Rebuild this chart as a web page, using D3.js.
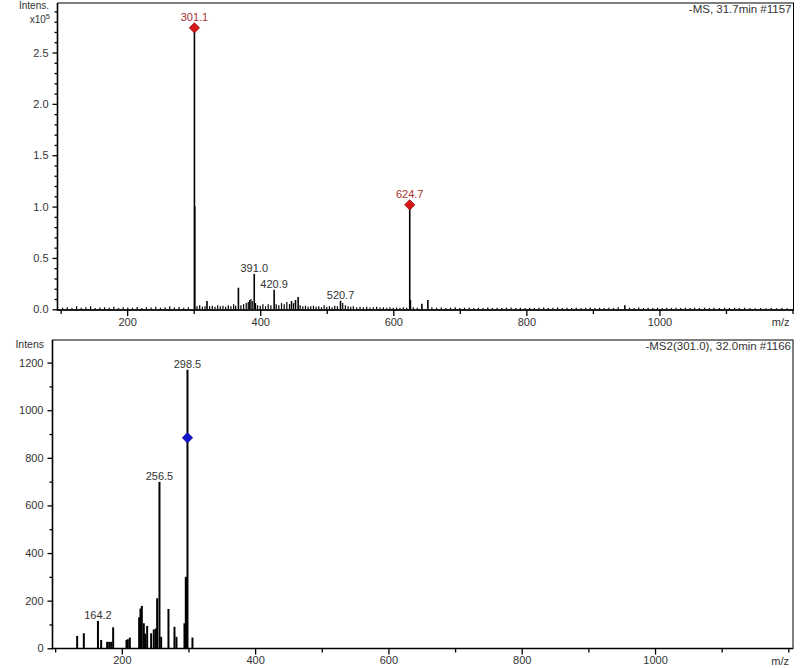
<!DOCTYPE html>
<meta charset="utf-8">
<style>
  body {
    margin: 0;
    background-color: white;
  }
  svg text {
    font-family: "Liberation Sans", Arial, sans-serif;
    fill: #333;
  }
</style>

<body>
  <script src="https://d3js.org/d3.v7.min.js"></script>
  <div id="chart"></div>
  <script>

    // ---- MS scan (top), intensities in units of 1e5 ----
    var msPeaks = [[301.1, 2.74], [301.6, 1.0], [624.7, 1.017], [367.2, 0.21], [391.0, 0.345],
      [420.9, 0.19], [457, 0.12], [447, 0.08], [453, 0.09], [520.7, 0.083], [625.7, 0.09],
      [643, 0.055], [652, 0.09], [320, 0.08], [948, 0.04]]
    var msNoise = [[103, .015], [110, .02], [117, .012], [124, .03], [131, .015], [138, .02], [145, .03],
      [152, .012], [159, .018], [166, .02], [173, .015], [180, .025], [187, .012], [194, .02], [201, .018],
      [208, .015], [215, .022], [222, .012], [229, .02], [236, .018], [243, .025], [250, .015], [257, .02],
      [264, .03], [271, .018], [278, .022], [285, .015], [292, .02], [305, .03], [309, .04], [313, .025],
      [317, .03], [324, .03], [328, .035], [332, .025], [336, .04], [340, .03], [344, .035], [348, .025],
      [352, .04], [356, .03], [360, .05], [363, .035], [371, .04], [375, .05], [379, .06], [382, .07],
      [384, .09], [386, .1], [388, .08], [393, .06], [396, .04], [400, .035], [404, .05], [408, .03],
      [412, .05], [416, .04], [424, .05], [428, .04], [432, .06], [436, .05], [440, .07], [444, .05],
      [450, .06], [460, .04], [464, .03], [468, .035], [472, .025], [476, .03], [480, .035], [484, .025],
      [488, .03], [492, .02], [496, .04], [500, .025], [504, .03], [508, .02], [512, .035], [516, .03],
      [524, .06], [528, .04], [532, .03], [536, .025], [540, .03], [545, .02], [550, .025], [555, .02],
      [560, .025], [565, .018], [570, .02], [575, .025], [580, .018], [585, .02], [590, .015], [595, .02],
      [600, .015], [605, .018], [610, .015], [615, .02], [620, .015], [630, .02], [636, .015], [658, .02],
      [665, .015], [672, .018], [679, .012], [686, .015], [693, .02], [700, .012], [707, .015], [714, .018],
      [721, .012], [728, .015], [735, .012], [742, .018], [749, .012], [756, .015], [763, .012], [770, .015],
      [777, .018], [784, .012], [791, .015], [798, .012], [805, .015], [812, .012], [819, .015], [826, .018],
      [833, .012], [840, .015], [847, .018], [854, .012], [861, .015], [868, .012], [875, .015], [882, .012],
      [889, .015], [896, .018], [903, .012], [910, .015], [917, .012], [924, .015], [931, .012], [938, .02],
      [955, .015], [962, .012], [969, .018], [976, .012], [983, .015], [990, .012], [997, .015], [1004, .012],
      [1011, .015], [1018, .012], [1025, .015], [1032, .012], [1039, .015], [1046, .012], [1053, .015],
      [1060, .012], [1068, .015], [1075, .012], [1082, .015], [1090, .012], [1098, .015], [1105, .012],
      [1113, .015], [1120, .012], [1128, .015], [1136, .012], [1144, .01], [1152, .012], [1160, .01],
      [1168, .012], [1176, .01], [1184, .012], [1192, .01]]
    var msLabels = [[301.1, 2.74, "301.1", "red"], [624.7, 1.017, "624.7", "red"], [391.0, 0.345, "391.0", "black"],
      [420.9, 0.19, "420.9", "black"], [520.7, 0.083, "520.7", "black"]]
    var msMarkers = [[301.1, 2.74], [624.7, 1.017]]
    var msYTicks = [0, 0.5, 1.0, 1.5, 2.0, 2.5]
    var msYMinor = [0.1, 0.2, 0.3, 0.4, 0.6, 0.7, 0.8, 0.9, 1.1, 1.2, 1.3, 1.4, 1.6, 1.7, 1.8, 1.9,
      2.1, 2.2, 2.3, 2.4, 2.6, 2.7, 2.8, 2.9]

    // ---- MS2 scan (bottom), raw intensity ----
    var ms2Peaks = [[133, 52], [143, 63], [164.2, 115], [169, 35], [178, 27], [181, 27], [184, 27], [187, 88],
      [207, 35], [209, 38], [212, 45], [226, 130], [228, 167], [230, 178], [233, 105], [235, 62], [238, 94],
      [244, 63], [248, 79], [251, 83], [253, 210], [256.5, 699], [259, 48], [270, 165], [279, 90], [282, 48],
      [294, 105], [296, 300], [297.5, 300], [298.5, 1170], [306, 45]]
    var ms2Labels = [[164.2, 115, "164.2"], [256.5, 699, "256.5"], [298.5, 1170, "298.5"]]
    var ms2Markers = [[298.5, 884]]
    var ms2YTicks = [0, 200, 400, 600, 800, 1000, 1200]
    var ms2YMinor = [100, 300, 500, 700, 900, 1100]

    var xMajor = [200, 400, 600, 800, 1000]
    var xMinor = [100, 300, 500, 700, 900, 1100, 1200]

    var svg = d3.select("#chart").append("svg")
      .attr("width", 800)
      .attr("height", 668)

    function drawPanel(p) {
      var x = d3.scaleLinear().domain(p.xDomain).range([p.left, p.right])
      var y = d3.scaleLinear().domain(p.yDomain).range([p.bottom, p.top])
      var g = svg.append("g")

      // noise first, then peaks
      g.append("g").selectAll("line")
        .data(p.noise)
        .enter().append("line")
        .attr("x1", function (d) { return x(d[0]) })
        .attr("x2", function (d) { return x(d[0]) })
        .attr("y1", y(0))
        .attr("y2", function (d) { return y(d[1]) })
        .attr("stroke", "#000")
        .attr("stroke-width", 1.2)

      g.append("g").selectAll("line")
        .data(p.peaks)
        .enter().append("line")
        .attr("x1", function (d) { return x(d[0]) })
        .attr("x2", function (d) { return x(d[0]) })
        .attr("y1", y(0))
        .attr("y2", function (d) { return y(d[1]) })
        .attr("stroke", "#000")
        .attr("stroke-width", p.peakWidth)

      // frame
      g.append("rect")
        .attr("x", p.left).attr("y", p.top)
        .attr("width", p.right - p.left).attr("height", p.bottom - p.top)
        .attr("fill", "none").attr("stroke", "#000").attr("stroke-width", 1)
      g.append("path")
        .attr("d", "M" + p.left + "," + p.top + "V" + p.bottom + "H" + p.right)
        .attr("fill", "none").attr("stroke", "#000").attr("stroke-width", 1.6)

      // axes
      var yAxis = g.append("g")
        .attr("transform", "translate(" + p.left + ",0)")
        .call(d3.axisLeft(y).tickValues(p.yTicks).tickFormat(p.yFormat).tickSize(5).tickPadding(4))
      yAxis.select(".domain").remove()
      var yMin = g.append("g")
        .attr("transform", "translate(" + p.left + ",0)")
        .call(d3.axisLeft(y).tickValues(p.yMinor).tickFormat("").tickSize(3))
      yMin.select(".domain").remove()

      var xAxis = g.append("g")
        .attr("transform", "translate(0," + p.bottom + ")")
        .call(d3.axisBottom(x).tickValues(xMajor).tickFormat(d3.format("d")).tickSize(6).tickPadding(2))
      xAxis.select(".domain").remove()
      var xMin = g.append("g")
        .attr("transform", "translate(0," + p.bottom + ")")
        .call(d3.axisBottom(x).tickValues(xMinor).tickFormat("").tickSize(4))
      xMin.select(".domain").remove()

      g.selectAll(".tick text")
        .attr("font-family", "'Liberation Sans', Arial, sans-serif")
        .attr("font-size", "11px")
        .attr("fill", "#333")
      g.selectAll(".tick line").attr("stroke", "#000").attr("stroke-width", 1.3)

      // markers
      g.append("g").selectAll("path")
        .data(p.markers)
        .enter().append("path")
        .attr("d", d3.symbol(d3.symbolSquare, 52))
        .attr("transform", function (d) { return "translate(" + x(d[0]) + "," + y(d[1]) + ") rotate(45)" })
        .attr("fill", p.markerFill)
        .attr("stroke", p.markerStroke)
        .attr("stroke-width", 0.8)

      // peak labels
      g.append("g").selectAll("text")
        .data(p.labels)
        .enter().append("text")
        .attr("x", function (d) { return x(d[0]) })
        .attr("y", function (d) { return y(d[1]) - (d[3] === "red" ? 7 : 2) })
        .attr("text-anchor", "middle")
        .attr("font-size", "11px")
        .style("fill", function (d) { return d[3] === "red" ? "#a83030" : "#333" })
        .text(function (d) { return d[2] })

      // titles
      g.append("text")
        .attr("x", p.right - 2).attr("y", p.top + 10)
        .attr("text-anchor", "end")
        .attr("font-size", "11.5px")
        .text(p.title)
      g.append("text")
        .attr("x", p.right - 4).attr("y", p.bottom + 16)
        .attr("text-anchor", "end")
        .attr("font-size", "11px")
        .text("m/z")
      return g
    }

    var msPanel = drawPanel({
      left: 57.5, right: 793.5, top: 3, bottom: 310,
      xDomain: [95.3, 1201.5], yDomain: [-0.007, 2.982],
      peaks: msPeaks, noise: msNoise, peakWidth: 1.6,
      yTicks: msYTicks, yMinor: msYMinor, yFormat: d3.format(".1f"),
      markers: msMarkers, markerFill: "#d81818", markerStroke: "#8a1010",
      labels: msLabels, title: "-MS, 31.7min #1157"
    })
    msPanel.append("text").attr("x", 49).attr("y", 9).attr("text-anchor", "end")
      .attr("font-size", "10px").text("Intens.")
    var xt = msPanel.append("text").attr("x", 50).attr("y", 23).attr("text-anchor", "end")
      .attr("font-size", "10px")
    xt.append("tspan").text("x10")
    xt.append("tspan").attr("dy", -4).attr("font-size", "7.5px").text("5")

    var ms2Panel = drawPanel({
      left: 52.5, right: 793, top: 340, bottom: 648.5,
      xDomain: [96, 1207], yDomain: [-1, 1295],
      peaks: ms2Peaks, noise: [], peakWidth: 2,
      yTicks: ms2YTicks, yMinor: ms2YMinor, yFormat: d3.format("d"),
      markers: ms2Markers, markerFill: "#1515d0", markerStroke: "#0a0a80",
      labels: ms2Labels.map(function (d) { return [d[0], d[1], d[2], "black"] }),
      title: "-MS2(301.0), 32.0min #1166"
    })
    ms2Panel.append("text").attr("x", 44).attr("y", 348).attr("text-anchor", "end")
      .attr("font-size", "10.5px").text("Intens")

  </script>
</body>
